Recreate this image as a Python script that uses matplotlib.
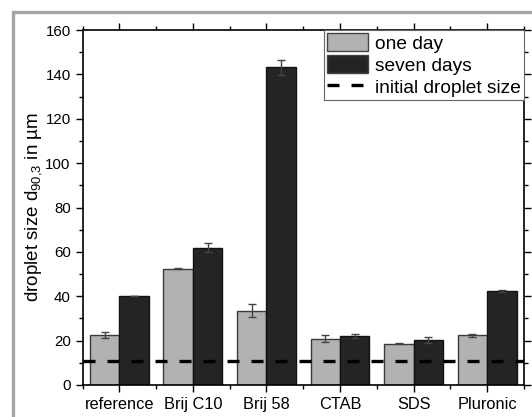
import matplotlib
matplotlib.use("Agg")
import matplotlib.pyplot as plt
import numpy as np
from matplotlib.patches import Patch, Rectangle
from matplotlib.lines import Line2D
from matplotlib.ticker import MultipleLocator

plt.rcParams['font.family'] = ['Liberation Sans', 'DejaVu Sans']
plt.rcParams['mathtext.default'] = 'regular'

categories = ["reference", "Brij C10", "Brij 58", "CTAB", "SDS", "Pluronic"]
one_day = [22.6, 52.5, 33.5, 20.9, 18.7, 22.4]
one_day_err = [1.2, 0.2, 3.0, 1.5, 0.1, 0.8]
seven_days = [40.3, 61.8, 143.2, 22.0, 20.2, 42.5]
seven_days_err = [0.0, 2.0, 3.3, 0.8, 1.3, 0.5]
initial_size = 11.0

fig = plt.figure(figsize=(5.32, 4.17), dpi=100)
ax = fig.add_axes([82.5/532, 32/417, (524-82.5)/532, (385-30)/417])

x = np.arange(len(categories))
w = 0.40
light = '#b2b2b2'
dark = '#242424'
ax.bar(x - w/2, one_day, w, color=light, edgecolor='#3a3a3a', linewidth=1.0,
       yerr=one_day_err, error_kw=dict(ecolor='#444444', elinewidth=1.0, capsize=3, capthick=1.0), zorder=2)
ax.bar(x + w/2, seven_days, w, color=dark, edgecolor='#111111', linewidth=1.0,
       yerr=seven_days_err, error_kw=dict(ecolor='#444444', elinewidth=1.0, capsize=3, capthick=1.0), zorder=2)

ax.axhline(initial_size, color='black', linewidth=2.4, linestyle=(0, (3.6, 3.6)), zorder=3)

ax.set_xlim(-0.5, 5.5)
ax.set_ylim(0, 160)
ax.set_xticks(x)
ax.set_xticklabels(categories, fontsize=11.8)
ax.set_xticks(np.arange(-0.5, 6.0, 1.0), minor=True)
ax.yaxis.set_major_locator(MultipleLocator(20))
ax.yaxis.set_minor_locator(MultipleLocator(10))
ax.tick_params(axis='y', labelsize=10.8)
ax.tick_params(which='both', direction='out', top=True, right=True, width=1.0)
ax.tick_params(which='major', length=5)
ax.tick_params(which='minor', length=3)
for s in ax.spines.values():
    s.set_linewidth(1.2)

ax.set_ylabel("droplet size d$_{90{,}3}$ in µm", fontsize=13.5, labelpad=1)

handles = [Patch(facecolor=light, edgecolor='#444444', linewidth=1.0),
           Patch(facecolor=dark, edgecolor='#444444', linewidth=1.0),
           Line2D([0], [0], color='black', linewidth=2.4, linestyle=(0, (3.6, 3.6)))]
leg = ax.legend(handles, ["one day", "seven days", "initial droplet size"],
                loc='upper right', fontsize=13.8, frameon=True, fancybox=False,
                framealpha=1, edgecolor='#666666', borderaxespad=0.0,
                handlelength=2.1, handleheight=1.1, labelspacing=0.12,
                handletextpad=0.4, borderpad=0.15)
leg.get_frame().set_linewidth(0.8)

fig.add_artist(Rectangle((12.5/532, -0.1), 1.5, 1.1 - 12.5/417, transform=fig.transFigure,
                         fill=False, edgecolor='#a4a4a4', linewidth=2.4, clip_on=False))

fig.savefig("out.png", dpi=100)
